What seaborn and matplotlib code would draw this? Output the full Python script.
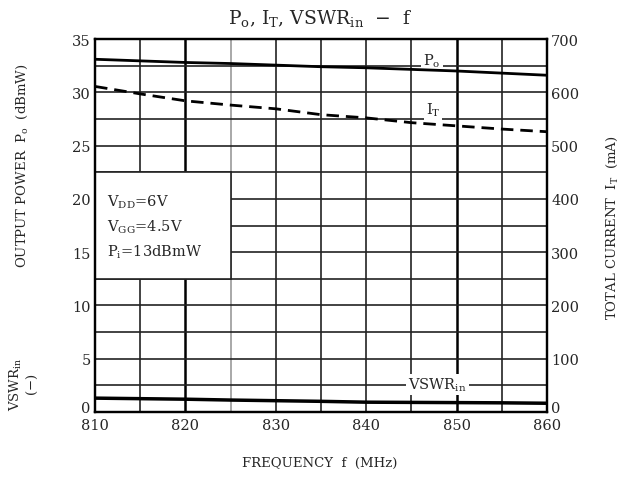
import numpy as np
import pandas as pd
import matplotlib
matplotlib.use("Agg")
import matplotlib.pyplot as plt
import matplotlib.patches as patches
import seaborn as sns

# values
freq = [810, 815, 820, 825, 830, 835, 840, 845, 850, 855, 860]
po = [33.1, 32.95, 32.8, 32.7, 32.55, 32.4, 32.3, 32.15, 32.0, 31.8, 31.6]
it = [611, 597, 584, 576, 569, 558, 552, 543, 537, 531, 526]
vswr = [1.3, 1.25, 1.2, 1.12, 1.06, 1.0, 0.92, 0.9, 0.88, 0.86, 0.82]

x_ticks = [810, 820, 830, 840, 850, 860]
left_ticks = [0, 5, 10, 15, 20, 25, 30, 35]
right_ticks = [0, 100, 200, 300, 400, 500, 600, 700]

df = pd.DataFrame({"f": freq, "Po": po, "IT": it, "VSWR": vswr})

sns.set_style("white")
plt.rcParams["font.family"] = ["DejaVu Serif"]
plt.rcParams["mathtext.fontset"] = "dejavuserif"

fig = plt.figure(figsize=(6.31, 4.81), dpi=100)
ax = fig.add_axes([0.1506, 0.1414, 0.7163, 0.7754])

# grid
for xv in np.arange(815, 860, 5):
    if xv in (820, 850):
        ax.axvline(xv, color="black", lw=1.8, zorder=1)
    elif xv == 825:
        ax.axvline(xv, color="#999999", lw=1.2, zorder=1)
    else:
        ax.axvline(xv, color="#222222", lw=1.2, zorder=1)
for yv in np.arange(2.5, 35, 2.5):
    ax.axhline(yv, color="#222222", lw=1.2, zorder=1)

# condition box
ax.add_patch(patches.Rectangle((810, 12.5), 15, 10, facecolor="white",
                               edgecolor="#222222", lw=1.2, zorder=1.5))
ax.text(811.3, 17.4, "V$_{\\rm DD}$=6V\nV$_{\\rm GG}$=4.5V\nP$_{\\rm i}$=13dBmW",
        fontsize=10.5, va="center", ha="left", linespacing=1.6, zorder=3)

sns.lineplot(data=df, x="f", y="Po", ax=ax, color="black", lw=2, zorder=4)
sns.lineplot(data=df, x="f", y="VSWR", ax=ax, color="black", lw=2.5, zorder=4)

ax.text(847.3, 33.0, "P$_{\\rm o}$", fontsize=10.5, ha="center", va="center", zorder=3,
        bbox=dict(facecolor="white", edgecolor="none", pad=1.5))
ax.text(847.4, 28.4, "I$_{\\rm T}$", fontsize=10.5, ha="center", va="center", zorder=3,
        bbox=dict(facecolor="white", edgecolor="none", pad=1.5))
ax.text(847.9, 2.6, "VSWR$_{\\rm in}$", fontsize=10.5, ha="center", va="center", zorder=3,
        bbox=dict(facecolor="white", edgecolor="none", pad=1.5))

ax2 = ax.twinx()
sns.lineplot(data=df, x="f", y="IT", ax=ax2, color="black", lw=2,
             linestyle=(0, (4.5, 2.5)))

ax.set_xlim(810, 860)
ax.set_ylim(0, 35)
ax2.set_ylim(0, 700)

ax.set_xticks(x_ticks)
ax.set_yticks(left_ticks)
ax.set_xlabel("")
ax.set_ylabel("")
ax.tick_params(length=0, labelsize=10.5)
ax.tick_params(axis="x", pad=4)
ax.tick_params(axis="y", pad=3)

ax2.set_yticks(right_ticks)
ax2.set_ylabel("")
ax2.tick_params(length=0, labelsize=10.5, pad=3)

# zero labels sit just above the bottom axis, clear of the frequency labels
ax.get_yticklabels()[0].set_va("baseline")
ax2.get_yticklabels()[0].set_va("baseline")

for a in (ax, ax2):
    for s in a.spines.values():
        s.set_color("black")
        s.set_linewidth(1.6)

fig.text(0.507, 0.962, "P$_{\\rm o}$, I$_{\\rm T}$, VSWR$_{\\rm in}$  $-$  f",
         fontsize=13.5, ha="center", va="center")
fig.text(0.507, 0.037, "FREQUENCY  f  (MHz)", fontsize=9.5, ha="center", va="center")
fig.text(0.035, 0.655, "OUTPUT POWER  P$_{\\rm o}$  (dBmW)", fontsize=9.5,
         rotation=90, ha="center", va="center")
fig.text(0.038, 0.2, "VSWR$_{\\rm in}$\n($-$)", fontsize=9.5, rotation=90,
         ha="center", va="center", multialignment="center", linespacing=1.0)
fig.text(0.970, 0.526, "TOTAL CURRENT  I$_{\\rm T}$  (mA)", fontsize=9.5,
         rotation=90, ha="center", va="center")

fig.savefig("out.png", dpi=100)
